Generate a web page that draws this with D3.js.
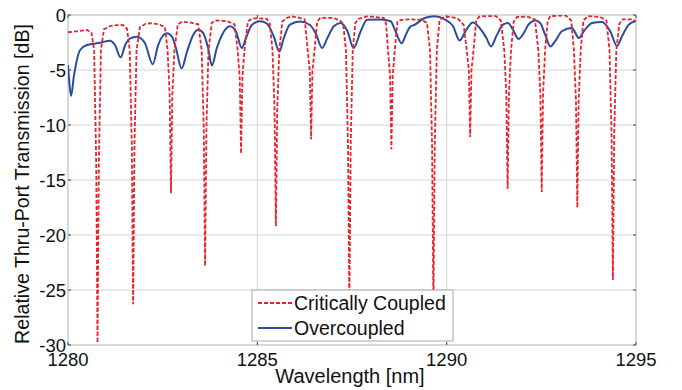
<!DOCTYPE html>
<html>
<head>
<meta charset="utf-8">
<script src="https://cdn.jsdelivr.net/npm/d3@7"></script>
<style>
  body { margin: 0; background: #fff; }
  svg { display: block; font-family: "Liberation Sans", Arial, sans-serif; }
</style>
</head>
<body>
<svg id="chart" width="682" height="390"></svg>
<script>
// wavelength [nm], relative transmission [dB]
const criticalData = [
  [1280.00,-1.57],[1280.30,-1.45],[1280.50,-1.36],[1280.62,-1.6],
  [1280.69,-3.2],[1280.745,-13.4],[1280.78,-29.8],[1280.815,-13.4],[1280.87,-3.2],
  [1280.95,-1.3],[1281.11,-1.0],[1281.30,-0.92],[1281.45,-0.91],[1281.56,-1.25],
  [1281.63,-3.2],[1281.685,-11.8],[1281.72,-26.3],[1281.755,-11.8],[1281.81,-3.2],
  [1281.90,-1.1],[1282.05,-0.8],[1282.17,-0.75],[1282.40,-0.85],[1282.56,-1.1],
  [1282.63,-3.2],[1282.685,-7.3],[1282.72,-16.2],[1282.755,-7.3],[1282.81,-3.2],
  [1282.90,-0.85],[1283.01,-0.6],[1283.25,-0.7],[1283.44,-0.85],
  [1283.53,-3.2],[1283.585,-10.3],[1283.62,-22.8],[1283.655,-10.3],[1283.71,-3.2],
  [1283.80,-0.7],[1283.90,-0.5],[1284.20,-0.55],[1284.40,-0.85],
  [1284.48,-3.2],[1284.535,-5.7],[1284.57,-12.6],[1284.605,-5.7],[1284.66,-3.2],
  [1284.75,-0.6],[1284.86,-0.32],[1285.05,-0.3],[1285.25,-0.35],[1285.33,-0.8],
  [1285.40,-3.2],[1285.455,-8.6],[1285.49,-19.2],[1285.525,-8.6],[1285.58,-3.2],
  [1285.66,-0.6],[1285.75,-0.3],[1285.91,-0.12],[1286.10,-0.25],[1286.25,-0.4],
  [1286.33,-3.2],[1286.385,-5.1],[1286.42,-11.3],[1286.455,-5.1],[1286.51,-3.2],
  [1286.58,-0.6],[1286.66,-0.27],[1287.02,-0.27],[1287.20,-0.55],[1287.27,-0.9],
  [1287.34,-3.2],[1287.395,-11.9],[1287.43,-26.5],[1287.465,-11.9],[1287.52,-3.2],
  [1287.59,-0.7],[1287.68,-0.35],[1287.90,-0.12],[1288.15,-0.2],[1288.34,-0.27],[1288.40,-0.8],
  [1288.45,-3.2],[1288.505,-5.5],[1288.54,-12.2],[1288.575,-5.5],[1288.63,-3.2],
  [1288.70,-0.6],[1288.80,-0.45],[1289.05,-0.4],[1289.32,-0.43],[1289.48,-0.7],
  [1289.56,-3.2],[1289.615,-11.9],[1289.65,-26.5],[1289.685,-11.9],[1289.74,-3.2],
  [1289.81,-0.5],[1289.88,-0.25],[1290.09,-0.14],[1290.30,-0.35],[1290.45,-0.9],
  [1290.53,-3.2],[1290.585,-5.0],[1290.62,-11.1],[1290.655,-5.0],[1290.71,-3.2],
  [1290.78,-0.5],[1290.86,-0.15],[1291.10,-0.1],[1291.30,-0.1],[1291.43,-0.5],
  [1291.52,-3.2],[1291.575,-7.1],[1291.61,-15.8],[1291.645,-7.1],[1291.70,-3.2],
  [1291.77,-0.6],[1291.86,-0.18],[1292.12,-0.14],[1292.33,-0.4],
  [1292.42,-3.2],[1292.475,-7.2],[1292.51,-16.1],[1292.545,-7.2],[1292.60,-3.2],
  [1292.67,-0.5],[1292.74,-0.1],[1293.00,-0.05],[1293.15,-0.05],[1293.29,-0.5],
  [1293.36,-3.2],[1293.415,-7.9],[1293.45,-17.5],[1293.485,-7.9],[1293.54,-3.2],
  [1293.61,-0.5],[1293.73,-0.1],[1294.05,-0.18],[1294.22,-0.5],
  [1294.30,-3.2],[1294.355,-10.8],[1294.39,-24.1],[1294.425,-10.8],[1294.48,-3.2],
  [1294.56,-0.8],[1294.65,-0.4],[1294.89,-0.4],[1295.00,-0.55]
];

const overData = [
  [1280.00,-4.55],[1280.03,-5.9],[1280.08,-7.36],[1280.16,-5.45],[1280.32,-3.18],
  [1280.50,-2.73],[1280.85,-2.52],[1281.11,-2.34],[1281.24,-2.73],[1281.39,-3.85],
  [1281.51,-2.73],[1281.64,-2.12],[1281.82,-1.97],[1282.03,-2.55],[1282.24,-4.48],
  [1282.38,-2.73],[1282.61,-1.66],[1282.75,-2.0],[1282.85,-3.0],[1283.00,-4.86],
  [1283.14,-3.36],[1283.31,-1.79],[1283.44,-1.34],[1283.57,-1.64],[1283.70,-3.0],
  [1283.80,-4.6],[1283.93,-3.0],[1284.07,-1.79],[1284.28,-1.03],[1284.44,-1.55],
  [1284.59,-3.0],[1284.70,-2.09],[1284.86,-0.88],[1285.07,-0.57],[1285.25,-0.77],
  [1285.44,-2.0],[1285.58,-3.32],[1285.70,-2.09],[1285.86,-0.88],[1286.13,-0.59],
  [1286.39,-0.91],[1286.55,-1.73],[1286.71,-3.0],[1286.85,-2.09],[1287.02,-1.03],
  [1287.20,-0.73],[1287.38,-1.48],[1287.54,-3.0],[1287.73,-1.48],[1287.90,-0.43],
  [1288.26,-0.41],[1288.52,-0.57],[1288.65,-1.48],[1288.81,-2.57],[1288.93,-1.73],
  [1289.03,-1.09],[1289.16,-0.88],[1289.42,-0.27],[1289.68,-0.12],[1289.95,-0.41],
  [1290.17,-1.03],[1290.34,-2.32],[1290.52,-1.34],[1290.69,-0.68],[1290.87,-1.18],
  [1291.05,-2.09],[1291.17,-2.86],[1291.31,-1.94],[1291.49,-0.88],[1291.62,-0.73],
  [1291.75,-1.34],[1291.90,-2.18],[1292.01,-1.79],[1292.16,-0.88],[1292.34,-0.5],
  [1292.47,-0.73],[1292.60,-1.79],[1292.74,-2.86],[1292.87,-2.36],[1293.04,-1.48],
  [1293.31,-1.18],[1293.49,-2.09],[1293.62,-1.48],[1293.84,-0.73],[1294.10,-0.64],
  [1294.32,-1.48],[1294.50,-2.82],[1294.63,-1.94],[1294.81,-0.88],[1294.98,-0.57]
];

const xTicks = [1280, 1285, 1290, 1295];
const yTicks = [0, -5, -10, -15, -20, -25, -30];
const seriesNames = ['Critically Coupled', 'Overcoupled'];

const margin = { top: 15, right: 46, bottom: 45, left: 68 };
const W = 682, H = 390;
const width = W - margin.left - margin.right;
const height = H - margin.top - margin.bottom;

const svg = d3.select('#chart');
const g = svg.append('g').attr('transform', `translate(${margin.left},${margin.top})`);

const x = d3.scaleLinear().domain([1280, 1295]).range([0, width]);
const y = d3.scaleLinear().domain([-30, 0]).range([height, 0]);

// Grid
g.append('g')
  .selectAll('line')
  .data(yTicks)
  .join('line')
  .attr('x1', 0).attr('x2', width)
  .attr('y1', d => y(d)).attr('y2', d => y(d))
  .attr('stroke', '#d4d4d4').attr('stroke-width', 1);

g.append('g')
  .selectAll('line')
  .data(xTicks)
  .join('line')
  .attr('y1', 0).attr('y2', height)
  .attr('x1', d => x(d)).attr('x2', d => x(d))
  .attr('stroke', '#d4d4d4').attr('stroke-width', 1);

// Box
g.append('rect')
  .attr('width', width).attr('height', height)
  .attr('fill', 'none').attr('stroke', '#c8c8c8');

// Small inner tick marks
const tickLen = 3;
g.append('g').selectAll('line').data(yTicks).join('line')
  .attr('x1', 0).attr('x2', tickLen).attr('y1', d => y(d)).attr('y2', d => y(d))
  .attr('stroke', '#444').attr('stroke-width', 1);
g.append('g').selectAll('line').data(yTicks).join('line')
  .attr('x1', width - tickLen).attr('x2', width).attr('y1', d => y(d)).attr('y2', d => y(d))
  .attr('stroke', '#444').attr('stroke-width', 1);
g.append('g').selectAll('line').data(xTicks).join('line')
  .attr('x1', d => x(d)).attr('x2', d => x(d)).attr('y1', height - tickLen).attr('y2', height)
  .attr('stroke', '#444').attr('stroke-width', 1);
g.append('g').selectAll('line').data(xTicks).join('line')
  .attr('x1', d => x(d)).attr('x2', d => x(d)).attr('y1', 0).attr('y2', tickLen)
  .attr('stroke', '#444').attr('stroke-width', 1);

// Tick labels
g.append('g').selectAll('text').data(yTicks).join('text')
  .attr('x', -2).attr('y', d => y(d)).attr('dy', '0.36em')
  .attr('text-anchor', 'end').attr('font-size', 18.5).attr('fill', '#111')
  .text(d => d);

g.append('g').selectAll('text').data(xTicks).join('text')
  .attr('x', d => x(d)).attr('y', height + 21)
  .attr('text-anchor', 'middle').attr('font-size', 18.5).attr('fill', '#111')
  .text(d => d);

// Axis titles
svg.append('text')
  .attr('x', margin.left + width / 2 - 2).attr('y', 383)
  .attr('text-anchor', 'middle').attr('font-size', 20).attr('fill', '#111')
  .text('Wavelength [nm]');

svg.append('text')
  .attr('transform', `translate(29,${margin.top + height / 2 + 4}) rotate(-90)`)
  .attr('text-anchor', 'middle').attr('font-size', 19.6).attr('fill', '#111')
  .text('Relative Thru-Port Transmission [dB]');

// Lines
g.append('clipPath').attr('id', 'clip')
  .append('rect').attr('width', width).attr('height', height + 1);

const plot = g.append('g').attr('clip-path', 'url(#clip)');

plot.append('path')
  .datum(overData)
  .attr('fill', 'none')
  .attr('stroke', '#2b4c9e')
  .attr('stroke-width', 2)
  .attr('stroke-linejoin', 'round')
  .attr('d', d3.line().x(d => x(d[0])).y(d => y(d[1])).curve(d3.curveMonotoneX));

plot.append('path')
  .datum(criticalData)
  .attr('fill', 'none')
  .attr('stroke', '#e8232b')
  .attr('stroke-width', 1.8)
  .attr('stroke-dasharray', '4,2')
  .attr('d', d3.line().x(d => x(d[0])).y(d => y(d[1])));

// Legend
const lg = svg.append('g').attr('transform', 'translate(252,290)');
lg.append('rect')
  .attr('width', 201).attr('height', 51)
  .attr('fill', '#fff').attr('stroke', '#a8a8a8');

const legendStyles = [
  { color: '#e8232b', dash: '4,2', w: 1.8 },
  { color: '#2b4c9e', dash: null, w: 2 }
];
seriesNames.forEach((name, i) => {
  const cy = 13 + i * 25;
  lg.append('line')
    .attr('x1', 6).attr('x2', 40).attr('y1', cy).attr('y2', cy)
    .attr('stroke', legendStyles[i].color)
    .attr('stroke-width', legendStyles[i].w)
    .attr('stroke-dasharray', legendStyles[i].dash);
  lg.append('text')
    .attr('x', 42).attr('y', cy).attr('dy', '0.36em')
    .attr('font-size', 19.5).attr('fill', '#111')
    .text(name);
});
</script>
</body>
</html>
